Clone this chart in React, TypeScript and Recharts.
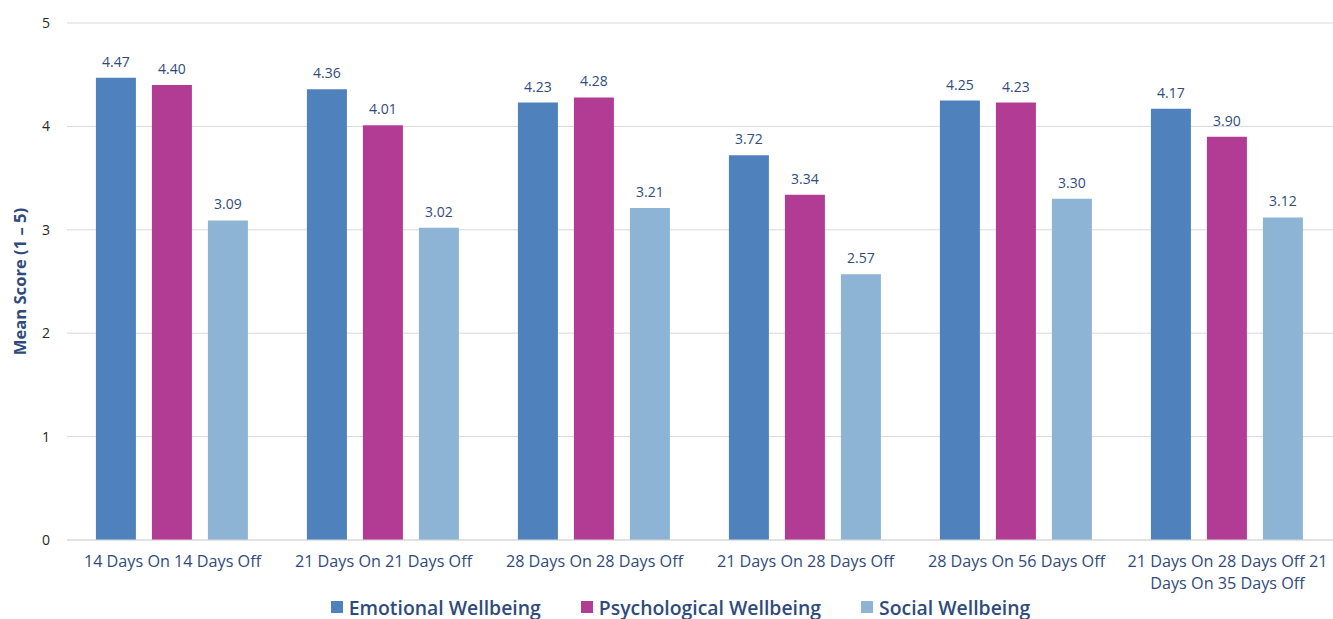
import React from 'react';
import { BarChart, Bar, XAxis, YAxis, CartesianGrid, Legend, LabelList, Label } from 'recharts';

const categories = [
  '14 Days On 14 Days Off',
  '21 Days On 21 Days Off',
  '28 Days On 28 Days Off',
  '21 Days On 28 Days Off',
  '28 Days On 56 Days Off',
  '21 Days On 28 Days Off 21 Days On 35 Days Off',
];
const emotional = [4.47, 4.36, 4.23, 3.72, 4.25, 4.17];
const psychological = [4.40, 4.01, 4.28, 3.34, 4.23, 3.90];
const social = [3.09, 3.02, 3.21, 2.57, 3.30, 3.12];
const yTicks = [0, 1, 2, 3, 4, 5];

const seriesInfo = [
  { key: 'emotional', name: 'Emotional Wellbeing', color: '#4F81BD' },
  { key: 'psychological', name: 'Psychological Wellbeing', color: '#B23C93' },
  { key: 'social', name: 'Social Wellbeing', color: '#8DB4D5' },
];

const data = categories.map((c, i) => ({
  name: c,
  emotional: emotional[i],
  psychological: psychological[i],
  social: social[i],
}));

const FONT = '"Open Sans", Lato, sans-serif';
const NAVY = '#2F4B7C';

function wrap(label: string, maxChars: number): string[] {
  const words = label.split(' ');
  const lines: string[] = [];
  let cur = '';
  for (const w of words) {
    const next = cur ? cur + ' ' + w : w;
    if (next.length > maxChars && cur) {
      lines.push(cur);
      cur = w;
    } else cur = next;
  }
  if (cur) lines.push(cur);
  return lines;
}

const XTick = (props: any) => {
  const { x, y, payload } = props;
  const lines = wrap(String(payload.value), 26);
  return (
    <text x={x} y={y} textAnchor="middle" fill={NAVY} fontSize={16.2} fontFamily={FONT}>
      {lines.map((l, i) => (
        <tspan key={i} x={x} dy={i === 0 ? 19 : 22}>{l}</tspan>
      ))}
    </text>
  );
};

const LegendContent = () => (
  <div style={{ height: 24, display: 'flex', justifyContent: 'center', alignItems: 'center', fontFamily: FONT, paddingLeft: 28 }}>
    {seriesInfo.map((s) => (
      <div key={s.key} style={{ display: 'flex', alignItems: 'center', margin: '0 20px' }}>
        <span style={{ width: 12, height: 12, background: s.color, display: 'inline-block', marginRight: 6 }} />
        <span style={{ color: NAVY, fontSize: 19.4, fontWeight: 600, whiteSpace: 'nowrap' }}>{s.name}</span>
      </div>
    ))}
  </div>
);

export default function App() {
  return (
    <div style={{ position: 'absolute', left: 0, top: 0, width: 1333, height: 619, background: '#fff' }}>
      <BarChart
        width={1333}
        height={619}
        data={data}
        margin={{ top: 23, right: 0, bottom: 0, left: 0 }}
        barCategoryGap="13.7%"
        barGap={16}
      >
        <CartesianGrid vertical={false} stroke="#D9D9D9" />
        <XAxis
          dataKey="name"
          height={55}
          tick={<XTick />}
          tickLine={false}
          axisLine={{ stroke: '#D9D9D9' }}
          interval={0}
        />
        <YAxis
          width={67}
          domain={[0, 5]}
          ticks={yTicks}
          tickLine={false}
          axisLine={false}
          tickSize={0}
          tickMargin={17}
          tick={{ fill: '#262626', fontSize: 14, fontFamily: FONT }}
        >
          <Label
            value="Mean Score (1 – 5)"
            angle={-90}
            position="insideLeft"
            offset={20}
            style={{ textAnchor: 'middle', fill: NAVY, fontWeight: 'bold', fontSize: 16.6, fontFamily: FONT }}
          />
        </YAxis>
        <Legend verticalAlign="bottom" height={24} content={<LegendContent />} />
        {seriesInfo.map((s) => (
          <Bar key={s.key} dataKey={s.key} name={s.name} fill={s.color} isAnimationActive={false}>
            <LabelList
              dataKey={s.key}
              position="top"
              offset={11}
              formatter={(v: any) => Number(v).toFixed(2)}
              style={{ fill: NAVY, fontSize: 14, fontFamily: FONT }}
            />
          </Bar>
        ))}
      </BarChart>
    </div>
  );
}
